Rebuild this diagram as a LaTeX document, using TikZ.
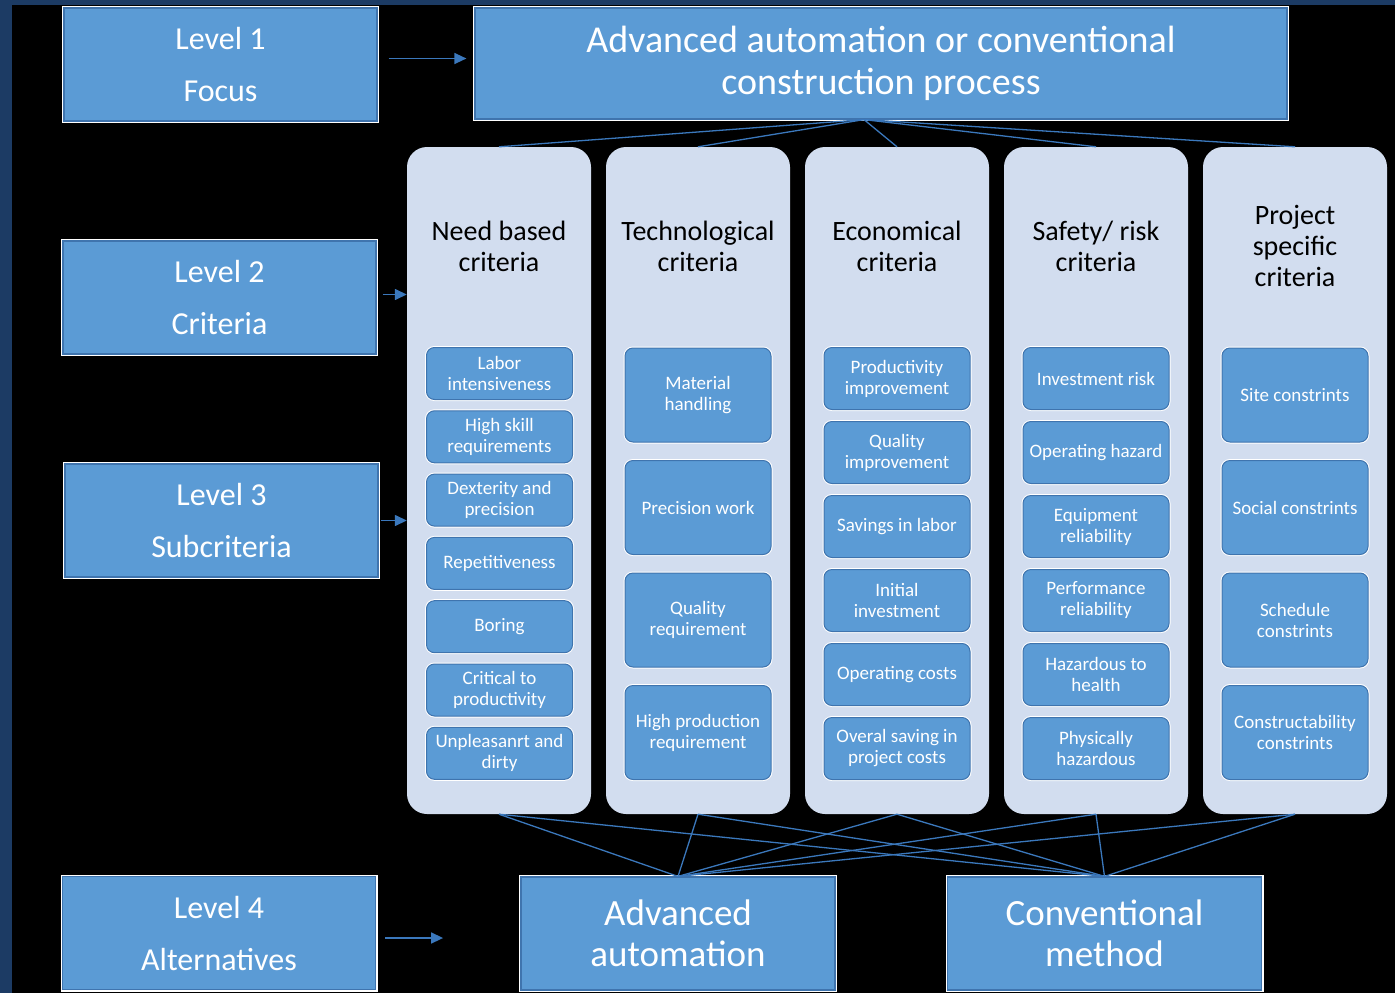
\documentclass[tikz,border=0pt]{standalone}
\usepackage{fontspec}
\setmainfont{Carlito}
\usetikzlibrary{arrows.meta,positioning}
\definecolor{boxblue}{HTML}{5B9BD5}
\definecolor{edgeblue}{HTML}{3F74AE}
\definecolor{colfill}{HTML}{D2DDEF}
\definecolor{linkblue}{HTML}{3B78BC}
\definecolor{slidenavy}{HTML}{1C3B64}
\tikzset{>={Triangle[length=12pt,width=11pt]},
         bluebox/.style={preaction={draw=white,line width=4pt},fill=boxblue,draw=edgeblue,line width=1.2pt,text=white,align=center,inner sep=2pt},
         lvlbox/.style={bluebox,minimum width=313pt,minimum height=113pt,font=\fontsize{32}{52}\selectfont},
         goalbox/.style={bluebox,minimum width=812pt,minimum height=111pt,font=\fontsize{38}{42}\selectfont},
         altbox/.style={bluebox,minimum width=314pt,minimum height=113pt,font=\fontsize{37}{41}\selectfont},
         colbox/.style={fill=colfill,rounded corners=20pt,minimum width=184pt,minimum height=667pt},
         coltitle/.style={text=black,align=center,font=\fontsize{28}{31}\selectfont},
         sub/.style={preaction={draw=white,line width=3pt},fill=boxblue,draw=edgeblue,line width=1pt,rounded corners=8pt,minimum width=146pt,text=white,align=center,inner sep=1pt,font=\fontsize{19}{21}\selectfont},
         shortsub/.style={sub,minimum height=52pt},
         midsub/.style={sub,minimum height=62pt},
         tallsub/.style={sub,minimum height=94pt},
         arrow/.style={->,draw=linkblue,line width=1.5pt},
         link/.style={draw=linkblue,line width=1.3pt}}
\begin{document}
\begin{tikzpicture}[x=1pt,y=-1pt]
        \useasboundingbox(0,0)rectangle(1395,993);
        \fill[slidenavy](0,0)rectangle(1395,993);
        \fill[black](12,5)rectangle(1395,993);

        \node[lvlbox](l1)at(220.5,64.5){Level 1\\Focus};
        \node[lvlbox](l2)at(219.5,297.5){Level 2\\Criteria};
        \node[lvlbox](l3)at(221.5,520.5){Level 3\\Subcriteria};
        \node[lvlbox](l4)at(219,933){Level 4\\Alternatives};

        \node[goalbox](goal)at(881,63.5){Advanced automation or conventional\\construction process};
        \node[altbox](a1)at(678,933.5){Advanced\\automation};
        \node[altbox](a2)at(1104.5,933.5){Conventional\\method};

        \node[colbox](c1)at(499,480.5){};
        \node[colbox](c2)at(698,480.5){};
        \node[colbox](c3)at(897,480.5){};
        \node[colbox](c4)at(1096,480.5){};
        \node[colbox](c5)at(1295,480.5){};
        \node[coltitle](t1)at(499,246){Need based\\criteria};
        \node[coltitle](t2)at(698,246){Technological\\criteria};
        \node[coltitle](t3)at(897,246){Economical\\criteria};
        \node[coltitle](t4)at(1096,246){Safety/ risk\\criteria};
        \node[coltitle](t5)at(1295,246){Project\\specific\\criteria};

        \node[shortsub](s11)at(499.5,373.5){Labor\\intensiveness};
        \node[shortsub](s12)at(499.5,436.8){High skill\\requirements};
        \node[shortsub](s13)at(499.5,500.1){Dexterity and\\precision};
        \node[shortsub](s14)at(499.5,563.4){Repetitiveness};
        \node[shortsub](s15)at(499.5,626.7){Boring};
        \node[shortsub](s16)at(499.5,690){Critical to\\productivity};
        \node[shortsub](s17)at(499.5,753.3){Unpleasanrt and\\dirty};

        \node[tallsub](s21)at(698,395){Material\\handling};
        \node[tallsub](s22)at(698,507.5){Precision work};
        \node[tallsub](s23)at(698,620){Quality\\requirement};
        \node[tallsub](s24)at(698,732.5){High production\\requirement};

        \node[midsub](s31)at(897,378.5){Productivity\\improvement};
        \node[midsub](s32)at(897,452.5){Quality\\improvement};
        \node[midsub](s33)at(897,526.5){Savings in labor};
        \node[midsub](s34)at(897,600.5){Initial\\investment};
        \node[midsub](s35)at(897,674.5){Operating costs};
        \node[midsub](s36)at(897,748.5){Overal saving in\\project costs};

        \node[midsub](s41)at(1096,378.5){Investment risk};
        \node[midsub](s42)at(1096,452.5){Operating hazard};
        \node[midsub](s43)at(1096,526.5){Equipment\\reliability};
        \node[midsub](s44)at(1096,600.5){Performance\\reliability};
        \node[midsub](s45)at(1096,674.5){Hazardous to\\health};
        \node[midsub](s46)at(1096,748.5){Physically\\hazardous};

        \node[tallsub](s51)at(1295,395){Site constrints};
        \node[tallsub](s52)at(1295,507.5){Social constrints};
        \node[tallsub](s53)at(1295,620){Schedule\\constrints};
        \node[tallsub](s54)at(1295,732.5){Constructability\\constrints};

        \draw[arrow]([xshift=11pt,yshift=6pt]l1.east)--([xshift=-8pt,yshift=6pt]l1.east -| goal.west);
        \draw[arrow]([xshift=6pt,yshift=3pt]l2.east)--([yshift=3pt]l2.east -| c1.west);
        \draw[arrow]([xshift=2pt]l3.east)--(l3.east -| c1.west);
        \coordinate[right=67pt of l4.east,yshift=-5pt](l4tip);
        \draw[arrow]([xshift=9pt,yshift=-5pt]l4.east)--(l4tip);

        \coordinate[left=17pt of goal.south](hub);
        \draw[link](hub)--(c1.north);
        \draw[link](hub)--(c2.north);
        \draw[link](hub)--(c3.north);
        \draw[link](hub)--(c4.north);
        \draw[link](hub)--(c5.north);

        \draw[link](c1.south)--(a1.north);
        \draw[link](c1.south)--(a2.north);
        \draw[link](c2.south)--(a1.north);
        \draw[link](c2.south)--(a2.north);
        \draw[link](c3.south)--(a1.north);
        \draw[link](c3.south)--(a2.north);
        \draw[link](c4.south)--(a1.north);
        \draw[link](c4.south)--(a2.north);
        \draw[link](c5.south)--(a1.north);
        \draw[link](c5.south)--(a2.north);
\end{tikzpicture}
\end{document}
